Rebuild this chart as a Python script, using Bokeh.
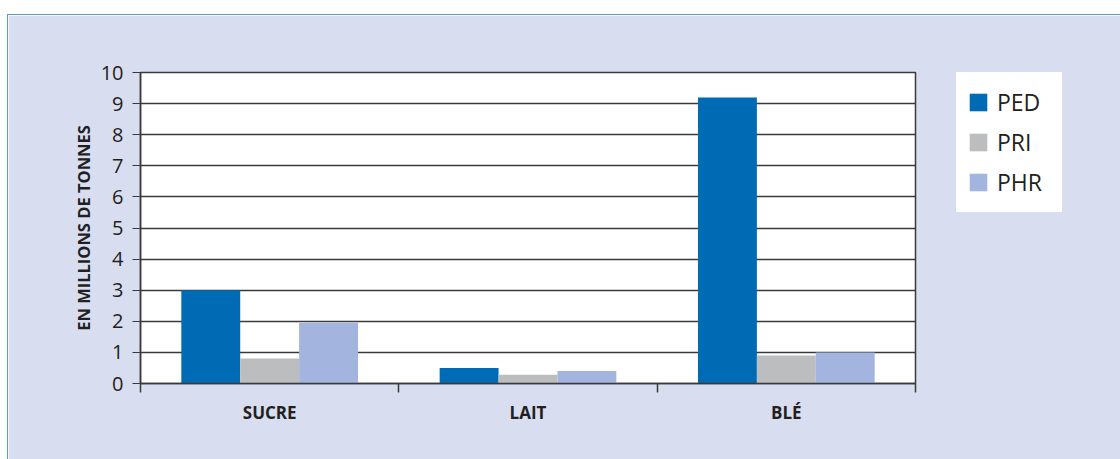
from bokeh.plotting import figure
from bokeh.models import (ColumnDataSource, FixedTicker, Legend, LegendItem, Range1d)
from bokeh.transform import dodge
from bokeh.embed import file_html
from bokeh.resources import INLINE

categories = ["SUCRE", "LAIT", "BLÉ"]
ped = [3.0, 0.5, 9.2]
pri = [0.8, 0.28, 0.9]
phr = [1.95, 0.4, 1.0]
series = ["PED", "PRI", "PHR"]
colors = ["#006bb5", "#bcbdbf", "#a3b5de"]
y_ticks = list(range(0, 11))

xpos = [i + 0.5 for i in range(len(categories))]
src = ColumnDataSource(dict(x=xpos, PED=ped, PRI=pri, PHR=phr))

PANEL = "#d8ddf0"
FONT = "Open Sans"
TXT = "#231f20"

p = figure(width=1112, height=444, frame_width=775, frame_height=311,
           output_backend="svg", toolbar_location=None,
           x_range=Range1d(0, 3), y_range=Range1d(0, 10),
           min_border_left=132, min_border_right=205, min_border_top=57, min_border_bottom=76)
p.background_fill_color = "white"
p.border_fill_color = PANEL
p.outline_line_color = "#3a3a3a"
p.outline_line_width = 1.5

w = 0.228
offsets = [-w, 0.0, w]
renderers = []
for s, c, o in zip(series, colors, offsets):
    r = p.vbar(x=dodge("x", o, range=p.x_range), top=s, width=w, bottom=0, source=src,
               fill_color=c, line_color=None)
    renderers.append(r)

# y axis
p.yaxis.ticker = FixedTicker(ticks=y_ticks)
p.yaxis.axis_label = "EN MILLIONS DE TONNES"
p.yaxis.axis_label_text_font = FONT
p.yaxis.axis_label_text_font_style = "bold"
p.yaxis.axis_label_text_font_size = "16.5px"
p.yaxis.axis_label_text_color = TXT
p.yaxis.axis_label_standoff = 3
p.yaxis.major_label_text_font = FONT
p.yaxis.major_label_text_font_size = "20px"
p.yaxis.major_label_text_color = TXT
p.yaxis.major_tick_in = 0
p.yaxis.major_tick_out = 8
p.yaxis.minor_tick_line_color = None
p.yaxis.major_label_standoff = 9
p.yaxis.axis_line_color = "#3a3a3a"
p.yaxis.major_tick_line_color = "#3a3a3a"
p.yaxis.axis_line_width = 1.5

# x axis
p.xaxis.ticker = FixedTicker(ticks=xpos, minor_ticks=[0, 1, 2, 3])
p.xaxis.major_label_overrides = {x: c for x, c in zip(xpos, categories)}
p.xaxis.major_tick_line_color = None
p.xaxis.major_tick_in = 0
p.xaxis.major_tick_out = 0
p.xaxis.minor_tick_in = 0
p.xaxis.minor_tick_out = 9
p.xaxis.minor_tick_line_color = "#3a3a3a"
p.xaxis.minor_tick_line_width = 1.5
p.xaxis.axis_line_color = "#3a3a3a"
p.xaxis.axis_line_width = 1.5
p.xaxis.major_label_standoff = 8
p.xaxis.major_label_text_font = FONT
p.xaxis.major_label_text_font_style = "bold"
p.xaxis.major_label_text_font_size = "17px"
p.xaxis.major_label_text_color = TXT

p.xgrid.grid_line_color = None
p.ygrid.ticker = FixedTicker(ticks=y_ticks)
p.ygrid.grid_line_color = "#3a3a3a"
p.ygrid.grid_line_width = 1.5

legend = Legend(items=[LegendItem(label=s, renderers=[r]) for s, r in zip(series, renderers)],
                location=(41, 171))
legend.background_fill_color = "white"
legend.background_fill_alpha = 1
legend.border_line_color = "white"
legend.border_line_width = 1
legend.padding = 10
legend.margin = 0
legend.spacing = 2
legend.glyph_width = 22
legend.glyph_height = 22
legend.label_height = 38
legend.label_width = 54
legend.label_standoff = 8
legend.label_text_font = FONT
legend.label_text_font_size = "23px"
legend.label_text_color = TXT
p.add_layout(legend, "right")

p.styles = {"margin-top": "14px", "margin-left": "7px",
            "border-top": "1px solid #5b9bd5", "border-left": "1px solid #5b9bd5"}

open("out.html", "w").write(file_html(p, INLINE))
